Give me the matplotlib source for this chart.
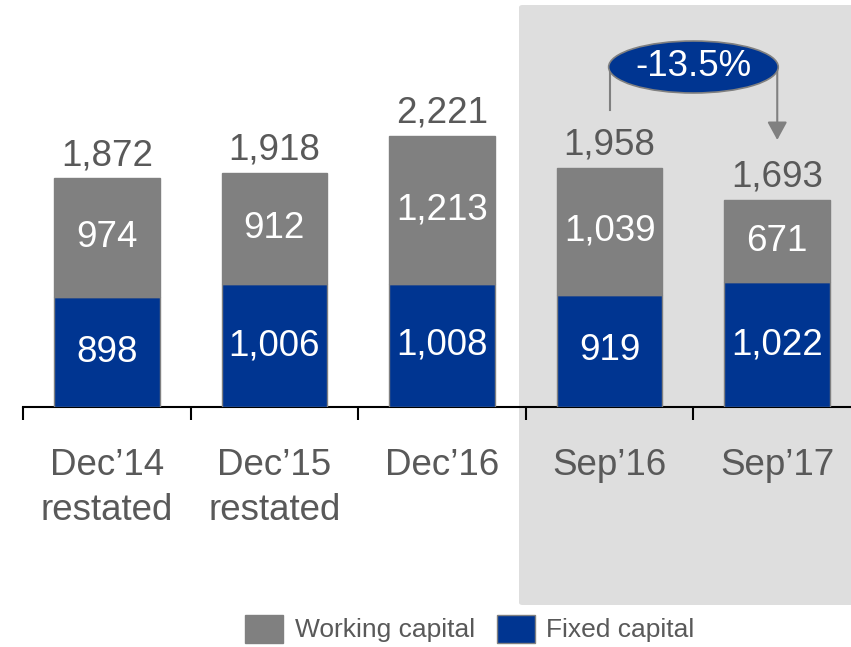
import matplotlib
matplotlib.use("Agg")
import matplotlib.pyplot as plt
from matplotlib.patches import Ellipse, FancyBboxPatch, Rectangle

categories = ["Dec\u201914\nrestated", "Dec\u201915\nrestated", "Dec\u201916", "Sep\u201916", "Sep\u201917"]
fixed_capital = [898, 1006, 1008, 919, 1022]
working_capital = [974, 912, 1213, 1039, 671]
totals = [1872, 1918, 2221, 1958, 1693]
change_label = "-13.5%"

BLUE = "#003591"
GRAY = "#808080"
TXT = "#595959"
SHADE = "#dedede"
FONT = "Liberation Sans"
FS = 26.5

W, H = 851, 647
fig = plt.figure(figsize=(W / 100, H / 100), dpi=100)
plt.rcParams["font.family"] = [FONT, "DejaVu Sans"]

# shaded highlight region (figure coords)
shade = FancyBboxPatch((519 / W, 1 - 605 / H), (W - 519) / W + 0.01, (605 - 5) / H,
                       boxstyle="round,pad=0,rounding_size=0.004",
                       transform=fig.transFigure, facecolor=SHADE, edgecolor="none", zorder=-5)
fig.patches.append(shade)

ax_bottom = 1 - 407 / H
ax = fig.add_axes([23 / W, ax_bottom, (W - 23) / W, 407 / H])
ax.patch.set_visible(False)
ax.set_zorder(2)
x = list(range(len(categories)))
ax.set_xlim(-0.5, 4.44)
ax.set_ylim(0, 407 / 0.1222)

ax.bar(x, fixed_capital, width=0.63, color=BLUE, edgecolor=GRAY, linewidth=1, zorder=3)
ax.bar(x, working_capital, bottom=fixed_capital, width=0.63, color=GRAY,
       edgecolor=GRAY, linewidth=1, zorder=3)

for i in x:
    ax.text(i, fixed_capital[i] / 2, f"{fixed_capital[i]:,}", ha="center", va="center",
            color="white", fontsize=FS, zorder=4)
    ax.text(i, fixed_capital[i] + working_capital[i] / 2, f"{working_capital[i]:,}",
            ha="center", va="center", color="white", fontsize=FS, zorder=4)
    ax.annotate(f"{totals[i]:,}", (i, totals[i]), xytext=(0, 9.5), textcoords="offset points",
                ha="center", va="baseline", color=TXT, fontsize=FS, zorder=4)
    ax.text(i, -0.1, categories[i], transform=ax.get_xaxis_transform(), ha="center",
            va="top", color=TXT, fontsize=FS, linespacing=1.38)

for s in ["top", "right", "left"]:
    ax.spines[s].set_visible(False)
ax.spines["bottom"].set_color("black")
ax.spines["bottom"].set_linewidth(1.5)
ax.set_yticks([])
ax.set_xticks([-0.5, 0.5, 1.5, 2.5, 3.5])
ax.set_xticklabels([])
ax.tick_params(axis="x", length=9.5, width=1.5, color="black", direction="out")

# change bracket
y_line_bot = (407 - 110) / 0.1222
y_mid = (407 - 67) / 0.1222
y_tip = (407 - 140) / 0.1222
ax.plot([3, 3], [y_line_bot, y_mid], color=GRAY, lw=1.5, zorder=5, clip_on=False)
ax.annotate("", xy=(4, y_tip), xytext=(4, y_mid),
            arrowprops=dict(arrowstyle="-|>,head_length=0.55,head_width=0.3", color=GRAY, lw=1.5,
                            mutation_scale=20, shrinkA=0, shrinkB=0), zorder=5)
ell = Ellipse((3.5, y_mid), width=170 / 168, height=52 / 0.1222, facecolor=BLUE,
              edgecolor=GRAY, lw=1.2, zorder=6, clip_on=False)
ax.add_patch(ell)
ax.text(3.5, y_mid, change_label, ha="center", va="center", color="white", fontsize=FS, zorder=7)

# legend
def fx(px):
    return px / W
def fy(py):
    return 1 - py / H

fig.patches.append(Rectangle((fx(245), fy(643)), 38 / W, 28 / H, transform=fig.transFigure,
                             facecolor=GRAY, edgecolor=GRAY, lw=1))
fig.text(fx(295), fy(630), "Working capital", ha="left", va="center", color=TXT, fontsize=19)
fig.patches.append(Rectangle((fx(497), fy(643)), 38 / W, 28 / H, transform=fig.transFigure,
                             facecolor=BLUE, edgecolor=GRAY, lw=1))
fig.text(fx(546), fy(630), "Fixed capital", ha="left", va="center", color=TXT, fontsize=19)

fig.savefig("out.png", dpi=100)
